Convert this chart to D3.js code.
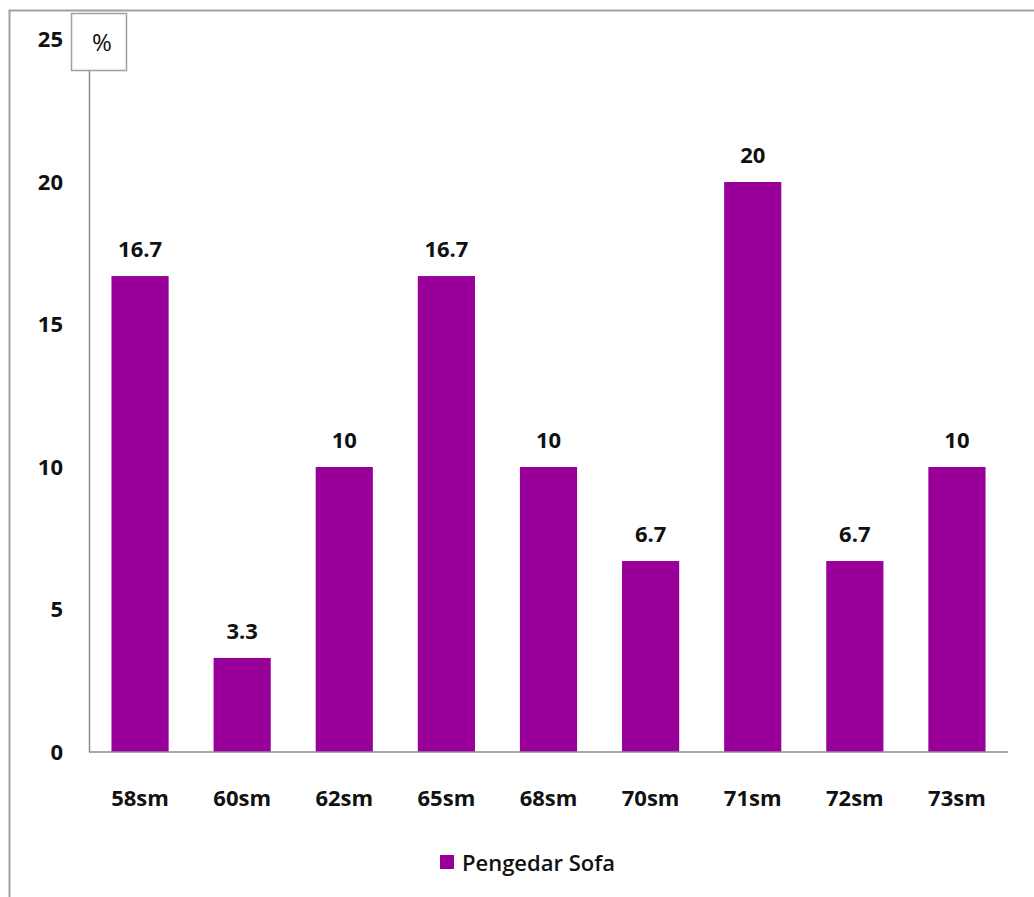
<!DOCTYPE html>
<html>
<head>
<meta charset="utf-8">
<script src="https://cdn.jsdelivr.net/npm/d3@7"></script>
<style>
  body { margin: 0; background: #fff; }
  text { font-family: "Open Sans", "Noto Sans", sans-serif; }
</style>
</head>
<body>
<div id="chart"></div>
<script>
// data
var categories = ["58sm", "60sm", "62sm", "65sm", "68sm", "70sm", "71sm", "72sm", "73sm"];
var values = [16.7, 3.3, 10, 16.7, 10, 6.7, 20, 6.7, 10];
var yTicks = [0, 5, 10, 15, 20, 25];
var seriesName = "Pengedar Sofa";
var unitLabel = "%";

var W = 1034, H = 897;
var margin = {top: 39.5, right: 26, bottom: 145, left: 89};
var width = W - margin.left - margin.right,
    height = H - margin.top - margin.bottom;

var svg = d3.select("#chart").append("svg")
  .attr("width", W).attr("height", H);

// outer frame (chart area border, cut off at right and bottom)
svg.append("path")
  .attr("d", "M9.5," + (H + 5) + "V10.5H" + (W + 5))
  .attr("fill", "none").attr("stroke", "#a0a0a0").attr("stroke-width", 2);

var g = svg.append("g")
  .attr("transform", "translate(" + margin.left + "," + margin.top + ")");

var x = d3.scaleBand().domain(categories).range([0, width]).paddingInner(0.44).paddingOuter(0.22);
var y = d3.scaleLinear().domain([0, 25]).range([height, 0]);

// bars
g.selectAll("rect.bar")
  .data(values)
  .enter().append("rect")
  .attr("class", "bar")
  .attr("x", function(d, i) { return x(categories[i]); })
  .attr("y", function(d) { return y(d); })
  .attr("width", x.bandwidth())
  .attr("height", function(d) { return y(0) - y(d); })
  .attr("fill", "#990099");

// value labels
g.selectAll("text.val")
  .data(values)
  .enter().append("text")
  .attr("class", "val")
  .attr("x", function(d, i) { return x(categories[i]) + x.bandwidth() / 2; })
  .attr("y", function(d) { return y(d) - 19; })
  .attr("text-anchor", "middle")
  .attr("font-size", "22px").attr("font-weight", "bold")
  .attr("fill", "#111")
  .text(function(d) { return d; });

// y axis line starts below the % box
g.append("line")
  .attr("x1", 0.5).attr("x2", 0.5)
  .attr("y1", 31).attr("y2", height)
  .attr("stroke", "#8c8c8c").attr("stroke-width", 1.5);

// baseline
g.append("line")
  .attr("x1", 0).attr("x2", width)
  .attr("y1", height).attr("y2", height)
  .attr("stroke", "#8c8c8c").attr("stroke-width", 1.5);

// y tick labels
g.selectAll("text.ytick")
  .data(yTicks)
  .enter().append("text")
  .attr("class", "ytick")
  .attr("x", -26)
  .attr("y", function(d) { return y(d); })
  .attr("dy", "0.35em")
  .attr("text-anchor", "end")
  .attr("font-size", "22px").attr("font-weight", "bold")
  .attr("fill", "#111")
  .text(function(d) { return d; });

// x category labels
g.selectAll("text.xtick")
  .data(categories)
  .enter().append("text")
  .attr("class", "xtick")
  .attr("x", function(d) { return x(d) + x.bandwidth() / 2; })
  .attr("y", height + 46)
  .attr("dy", "0.35em")
  .attr("text-anchor", "middle")
  .attr("font-size", "22px").attr("font-weight", "bold")
  .attr("fill", "#111")
  .text(function(d) { return d; });

// % unit box
svg.append("rect")
  .attr("x", 71.5).attr("y", 13.5).attr("width", 55).attr("height", 57)
  .attr("fill", "#fff").attr("stroke", "#a0a0a0").attr("stroke-width", 1.5);
svg.append("text")
  .attr("x", 102).attr("y", 43)
  .attr("dy", "0.35em")
  .attr("text-anchor", "middle")
  .attr("font-size", "24px")
  .attr("fill", "#111")
  .text(unitLabel);

// legend
svg.append("rect")
  .attr("x", 440).attr("y", 855).attr("width", 14).attr("height", 14)
  .attr("fill", "#990099");
svg.append("text")
  .attr("x", 462).attr("y", 863)
  .attr("dy", "0.35em")
  .attr("font-size", "22px").attr("font-weight", 600)
  .attr("fill", "#111")
  .text(seriesName);
</script>
</body>
</html>
